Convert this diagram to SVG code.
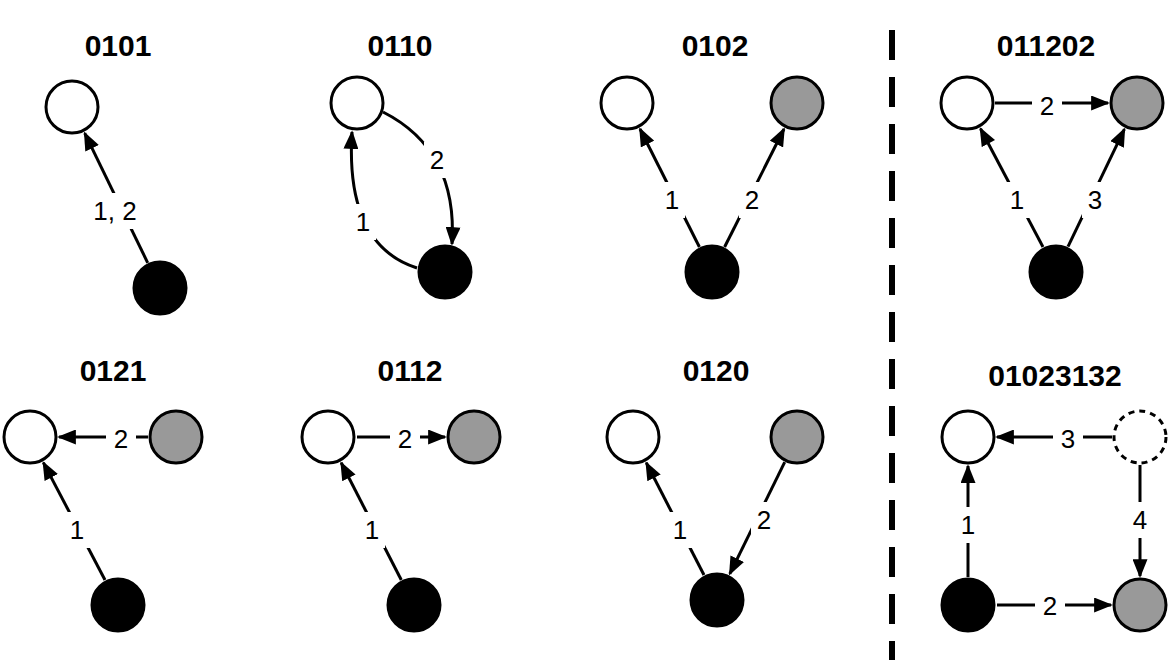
<svg xmlns="http://www.w3.org/2000/svg" width="1172" height="660" viewBox="0 0 1172 660">
<style>
.t{font-family:"Liberation Sans",Arial,sans-serif;font-weight:bold;font-size:30px;text-anchor:middle}
.l{font-family:"Liberation Sans",Arial,sans-serif;font-size:26px;text-anchor:middle;dominant-baseline:central;fill:#000}
.r{fill:#fff}
.n{stroke:#000;stroke-width:3}
.w{fill:#fff}.b{fill:#000}.g{fill:#999}
.d{fill:#fff;stroke-dasharray:6 5}
.e{stroke:#000;stroke-width:3;fill:none;marker-end:url(#a)}
</style>
<defs><marker id="a" viewBox="0 0 10 8" markerWidth="19" markerHeight="15" refX="9" refY="4" orient="auto" markerUnits="userSpaceOnUse"><path d="M0,0 L10,4 L0,8 z" fill="#000"/></marker></defs>
<g id="titles">
<text class="t" x="118" y="56">0101</text>
<text class="t" x="400" y="56">0110</text>
<text class="t" x="715" y="56">0102</text>
<text class="t" x="1046" y="56">011202</text>
<text class="t" x="113" y="381">0121</text>
<text class="t" x="410" y="381">0112</text>
<text class="t" x="716" y="381">0120</text>
<text class="t" x="1055" y="386">01023132</text>
</g>
<line x1="892" y1="30" x2="892" y2="660" stroke="#000" stroke-width="6" stroke-dasharray="30 17"/>
<g id="connectors">
<path class="e" d="M147.7,262.8 L84.7,133.1"/>
<path class="e" d="M417,268 Q345,245 352,132"/>
<path class="e" d="M383,112 Q458,150 452,244"/>
<path class="e" d="M699.4,247 L640,129"/>
<path class="e" d="M724.6,247 L784,129"/>
<path class="e" d="M1043,247 L980.5,128.7"/>
<path class="e" d="M1068,246.7 L1124.4,129.2"/>
<path class="e" d="M995,103 L1108,103"/>
<path class="e" d="M148,437 L59,437"/>
<path class="e" d="M105,580 L43.4,462.6"/>
<path class="e" d="M357,437 L445,437"/>
<path class="e" d="M401.3,580 L341.2,462.8"/>
<path class="e" d="M704,575 L646.3,462.8"/>
<path class="e" d="M784.7,462.1 L729.8,573.9"/>
<path class="e" d="M1112,437 L997,437"/>
<path class="e" d="M968,577 L968,466"/>
<path class="e" d="M1140,465 L1140,576"/>
<path class="e" d="M997,605 L1111,605"/>
</g>
<g id="labels">
<rect class="r" x="85" y="193" width="60" height="36"/>
<rect class="r" x="350" y="204" width="26" height="36"/>
<rect class="r" x="424" y="142" width="26" height="36"/>
<rect class="r" x="659" y="182" width="26" height="36"/>
<rect class="r" x="739" y="182" width="26" height="36"/>
<rect class="r" x="1032" y="93" width="30" height="24"/>
<rect class="r" x="1004" y="182" width="26" height="36"/>
<rect class="r" x="1082" y="182" width="26" height="36"/>
<rect class="r" x="106" y="428" width="30" height="24"/>
<rect class="r" x="64" y="512" width="26" height="36"/>
<rect class="r" x="390" y="428" width="30" height="24"/>
<rect class="r" x="359" y="512" width="26" height="36"/>
<rect class="r" x="667" y="512" width="26" height="36"/>
<rect class="r" x="751" y="502" width="26" height="36"/>
<rect class="r" x="1053" y="428" width="30" height="24"/>
<rect class="r" x="958" y="507" width="20" height="36"/>
<rect class="r" x="1130" y="502" width="20" height="36"/>
<rect class="r" x="1035" y="594" width="30" height="24"/>
<text class="l" x="115" y="211">1, 2</text>
<text class="l" x="363" y="222">1</text>
<text class="l" x="437" y="160">2</text>
<text class="l" x="672" y="200">1</text>
<text class="l" x="752" y="200">2</text>
<text class="l" x="1047" y="106">2</text>
<text class="l" x="1017" y="200">1</text>
<text class="l" x="1095" y="200">3</text>
<text class="l" x="121" y="439">2</text>
<text class="l" x="77" y="530">1</text>
<text class="l" x="405" y="439">2</text>
<text class="l" x="372" y="530">1</text>
<text class="l" x="680" y="530">1</text>
<text class="l" x="764" y="520">2</text>
<text class="l" x="1068" y="439">3</text>
<text class="l" x="968" y="525">1</text>
<text class="l" x="1140" y="520">4</text>
<text class="l" x="1050" y="606">2</text>
</g>
<g id="n0101w"><circle class="n w" cx="72" cy="107" r="26"/></g>
<g id="n0101b"><circle class="n b" cx="160" cy="288" r="26"/></g>
<g id="n0110w"><circle class="n w" cx="357" cy="103" r="26"/></g>
<g id="n0110b"><circle class="n b" cx="445" cy="272" r="26"/></g>
<g id="n0102w"><circle class="n w" cx="627" cy="103" r="26"/></g>
<g id="n0102g"><circle class="n g" cx="797" cy="103" r="26"/></g>
<g id="n0102b"><circle class="n b" cx="712" cy="272" r="26"/></g>
<g id="n011202w"><circle class="n w" cx="967" cy="103" r="26"/></g>
<g id="n011202g"><circle class="n g" cx="1137" cy="103" r="26"/></g>
<g id="n011202b"><circle class="n b" cx="1056" cy="272" r="26"/></g>
<g id="n0121w"><circle class="n w" cx="30" cy="437" r="26"/></g>
<g id="n0121g"><circle class="n g" cx="176" cy="437" r="26"/></g>
<g id="n0121b"><circle class="n b" cx="118" cy="605" r="26"/></g>
<g id="n0112w"><circle class="n w" cx="328" cy="437" r="26"/></g>
<g id="n0112g"><circle class="n g" cx="474" cy="437" r="26"/></g>
<g id="n0112b"><circle class="n b" cx="414" cy="605" r="26"/></g>
<g id="n0120w"><circle class="n w" cx="633" cy="437" r="26"/></g>
<g id="n0120g"><circle class="n g" cx="797" cy="437" r="26"/></g>
<g id="n0120b"><circle class="n b" cx="717" cy="600" r="26"/></g>
<g id="n4w"><circle class="n w" cx="968" cy="437" r="26"/></g>
<g id="n4d"><circle class="n d" cx="1140" cy="437" r="26"/></g>
<g id="n4b"><circle class="n b" cx="968" cy="605" r="26"/></g>
<g id="n4g"><circle class="n g" cx="1140" cy="605" r="26"/></g>
</svg>
